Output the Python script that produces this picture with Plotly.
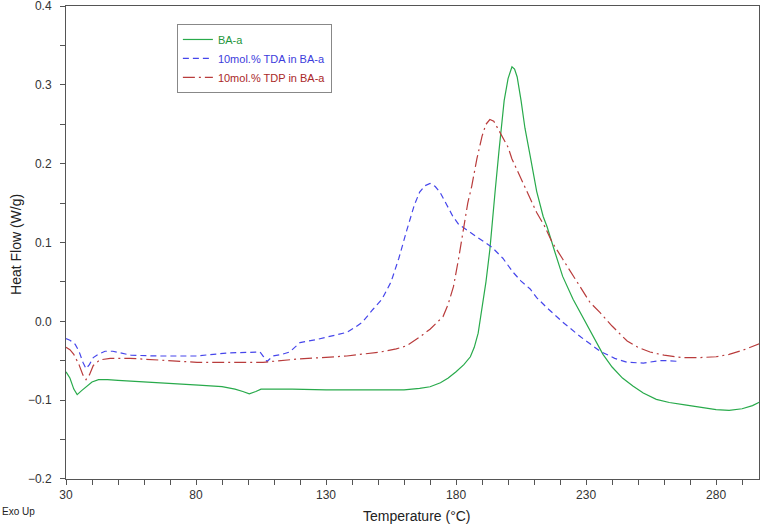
import plotly.graph_objects as go

# ---- data ----
ba_T = [30, 31.5, 33, 34.3, 36, 38, 40, 42.5, 46, 50, 56, 63, 70, 81, 90, 95, 98, 100.5, 103, 105,
        110, 117, 130, 145, 160, 166, 170, 174, 177, 180, 183, 185.5, 187, 188.5, 190, 191.5, 193,
        194, 195, 196.5, 198.5, 200, 201.5, 202.5, 203.5, 205, 206.5, 208.5, 211, 213.5, 215, 218,
        221, 225, 229, 233, 236.5, 240, 244, 248, 252, 257, 262, 268, 274, 280, 285, 290, 294, 297]
ba_HF = [-0.064, -0.072, -0.086, -0.093, -0.088, -0.082, -0.077, -0.074, -0.074, -0.075, -0.076,
         -0.078, -0.079, -0.081, -0.083, -0.086, -0.089, -0.092, -0.089, -0.086, -0.086, -0.086,
         -0.087, -0.087, -0.087, -0.085, -0.083, -0.078, -0.072, -0.064, -0.055, -0.045, -0.033,
         -0.015, 0.015, 0.050, 0.091, 0.130, 0.164, 0.216, 0.280, 0.308, 0.323, 0.320, 0.310, 0.280,
         0.245, 0.210, 0.165, 0.133, 0.120, 0.088, 0.057, 0.028, 0.003, -0.022, -0.042, -0.058,
         -0.072, -0.082, -0.091, -0.099, -0.103, -0.106, -0.109, -0.112, -0.113, -0.111, -0.107,
         -0.102]

tda_T = [30, 31.5, 33.5, 35, 36.5, 37.7, 39, 40.5, 42.3, 45, 48, 52, 55, 65, 80, 93, 100, 104.6,
         106, 107.3, 109.6, 113, 116, 118, 120, 126.5, 132, 138, 141, 144, 148, 151.5, 155, 158,
         161, 164, 166, 168, 170, 172, 173.8, 176, 178.8, 181, 183.5, 188, 193.8, 198, 202, 205,
         208.5, 211, 215, 221, 228, 235.4, 241, 245.8, 252, 258, 262, 266]
tda_HF = [-0.022, -0.024, -0.029, -0.038, -0.052, -0.060, -0.055, -0.046, -0.042, -0.038, -0.038,
          -0.041, -0.043, -0.044, -0.044, -0.040, -0.039, -0.039, -0.045, -0.051, -0.044, -0.042,
          -0.039, -0.033, -0.027, -0.023, -0.019, -0.014, -0.008, -0.001, 0.015, 0.028, 0.050,
          0.080, 0.115, 0.148, 0.164, 0.172, 0.175, 0.171, 0.164, 0.150, 0.133, 0.123, 0.117,
          0.107, 0.094, 0.080, 0.062, 0.051, 0.041, 0.030, 0.017, -0.001, -0.020, -0.038, -0.047,
          -0.052, -0.053, -0.050, -0.050, -0.051]

tdp_T = [30, 31.5, 33, 35, 36.5, 37.7, 39, 40.5, 43, 47, 54.6, 65, 80.4, 93, 105.8, 118.8, 130,
         138, 150.8, 157, 161, 166, 170, 172.5, 175, 177, 179, 181, 182.7, 184.5, 186, 188, 190,
         191.5, 193, 194.5, 196, 198, 200, 201.5, 203, 205, 208.5, 211, 214, 217, 221, 225, 231.5,
         235.4, 240, 245.8, 250, 254.6, 260, 267, 273.8, 280, 285, 290, 294, 297]
tdp_HF = [-0.033, -0.036, -0.042, -0.055, -0.068, -0.074, -0.068, -0.056, -0.049, -0.047, -0.047,
          -0.049, -0.052, -0.052, -0.052, -0.048, -0.046, -0.044, -0.039, -0.035, -0.031, -0.020,
          -0.010, -0.002, 0.006, 0.022, 0.044, 0.080, 0.117, 0.150, 0.171, 0.206, 0.235, 0.250,
          0.256, 0.254, 0.245, 0.232, 0.221, 0.206, 0.195, 0.181, 0.155, 0.138, 0.121, 0.100,
          0.079, 0.058, 0.024, 0.011, -0.006, -0.025, -0.033, -0.039, -0.043, -0.046, -0.046,
          -0.045, -0.042, -0.037, -0.032, -0.028]

series_names = ["BA-a", "10mol.% TDA in BA-a", "10mol.% TDP in BA-a"]
line_colors = ["rgb(40,170,75)", "rgb(70,70,235)", "rgb(185,60,60)"]
text_colors = ["rgb(30,150,60)", "rgb(60,60,220)", "rgb(170,40,40)"]
dashes = ["solid", "6px,4px", "12px,4px,2px,4px"]

fig = go.Figure()
for T, HF, name, lc, tc, dsh in zip([ba_T, tda_T, tdp_T], [ba_HF, tda_HF, tdp_HF],
                                     series_names, line_colors, text_colors, dashes):
    fig.add_trace(go.Scatter(
        x=T, y=HF, mode="lines",
        name=f"<span style='color:{tc}'>{name}</span>",
        line=dict(color=lc, width=1.2, dash=dsh),
    ))

axis_common = dict(
    showline=True, linecolor="#555", linewidth=1, mirror=True,
    showgrid=False, zeroline=False, automargin=False, ticklabeloverflow="allow",
    ticks="outside", ticklen=5, tickcolor="#555", tickwidth=1,
    tickfont=dict(family="Liberation Sans, Arial", size=12, color="#333"),
)

fig.update_xaxes(range=[30, 296.5], tick0=30, dtick=50,
                 minor=dict(dtick=10, ticks="outside", ticklen=5, tickcolor="#555"),
                 **axis_common)
fig.update_yaxes(range=[-0.2001, 0.4001], tick0=-0.2, dtick=0.1, tickformat=".1f",
                 minor=dict(dtick=0.05, ticks="outside", ticklen=5, tickcolor="#555"),
                 ticklabelstandoff=6,
                 **axis_common)

fig.add_annotation(text="Temperature (°C)", xref="paper", yref="paper", x=0.506, y=-0.079,
                   xanchor="center", yanchor="middle", showarrow=False,
                   font=dict(family="Liberation Sans, Arial", size=14, color="#222"))
fig.add_annotation(text="Heat Flow (W/g)", xref="paper", yref="paper", x=-0.072, y=0.495,
                   xanchor="center", yanchor="middle", textangle=-90, showarrow=False,
                   font=dict(family="Liberation Sans, Arial", size=14, color="#222"))
fig.add_annotation(text="Exo Up", xref="paper", yref="paper", x=-0.069, y=-0.069,
                   xanchor="center", yanchor="middle", showarrow=False,
                   font=dict(family="Liberation Sans, Arial", size=10, color="#222"))

fig.update_layout(
    width=761, height=525,
    margin=dict(l=66, r=2, t=6, b=46),
    paper_bgcolor="white", plot_bgcolor="white",
    showlegend=True,
    legend=dict(x=0.16, y=0.962, xanchor="left", yanchor="top",
                bgcolor="white", bordercolor="#888", borderwidth=1,
                font=dict(family="Liberation Sans, Arial", size=11),
                tracegroupgap=0, itemwidth=30),
)

fig.write_html(
    "out.html",
    config={"displayModeBar": False},
    post_script="document.body.style.margin='0px';document.body.style.overflow='hidden';",
)
